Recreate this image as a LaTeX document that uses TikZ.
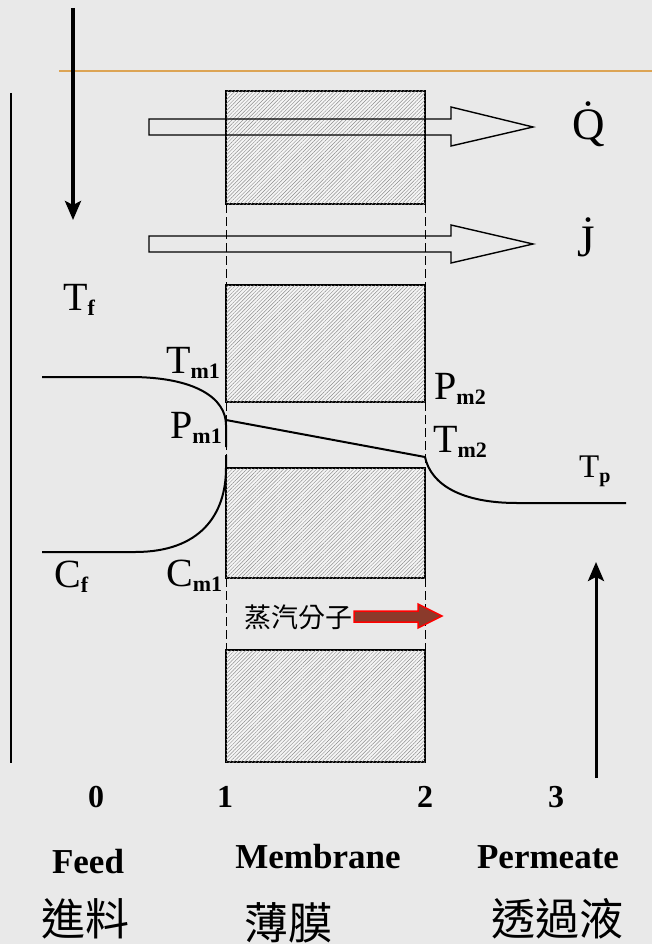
\documentclass[tikz,border=0pt]{standalone}
\usepackage{fontspec}
\setmainfont{Liberation Serif}
\newfontfamily\cjk{Noto Sans CJK TC}
\usetikzlibrary{patterns.meta,arrows.meta}
\definecolor{bgc}{HTML}{E9E9E9}
\definecolor{orangeline}{HTML}{DCA455}
\definecolor{brownred}{HTML}{8B3A2B}
\newcommand{\Lbl}[2]{{\fontsize{40}{40}\selectfont #1}\raisebox{-5pt}{\fontsize{22}{22}\selectfont\bfseries #2}}
\newcommand{\SLbl}[2]{{\fontsize{33}{33}\selectfont #1}\raisebox{-5pt}{\fontsize{20}{20}\selectfont\bfseries #2}}
\begin{document}
\begin{tikzpicture}[x=1pt,y=-1pt,
  membrane/.style={draw=black,line width=2pt,fill=white!96!black,
    postaction={pattern color=black!45,pattern={Lines[angle=45,distance=2.6pt,line width=0.45pt]}}},
  dashline/.style={line width=1pt,dash pattern=on 9pt off 4pt},
  hollow/.style={draw=black,line width=1.4pt,line join=miter},
  profile/.style={line width=2pt},
  lab/.style={inner sep=0pt,anchor=base west},
  num/.style={inner sep=0pt,anchor=base,font=\fontsize{32}{32}\selectfont\bfseries},
  word/.style={inner sep=0pt,anchor=base,font=\fontsize{35}{35}\selectfont\bfseries},
  zh/.style={inner sep=0pt,anchor=center,font=\fontsize{44}{44}\selectfont\cjk},
  flow/.style={line width=3.5pt,-{Stealth[length=19pt,width=16pt,inset=4pt]}}]
\useasboundingbox (0,0) rectangle (652,944);
\fill[bgc] (0,0) rectangle (652,944);

% orange rule
\coordinate (ol1) at (59,71);
\coordinate (ol2) at (652,71);
\draw[orangeline,line width=2pt] (ol1) -- (ol2);

% left boundary line
\coordinate (lb1) at (11,93);
\coordinate (lb2) at (11,763);
\draw[line width=1.6pt] (lb1) -- (lb2);

% feed and permeate arrows
\coordinate (fa1) at (73,8);
\coordinate (fa2) at (73,220);
\draw[flow] (fa1) -- (fa2);
\coordinate (pa1) at (596,778);
\coordinate (pa2) at (596,562);
\draw[flow,line width=3pt] (pa1) -- (pa2);

% membrane blocks
\coordinate (m1a) at (226,91);  \coordinate (m1b) at (425,204);
\coordinate (m2a) at (226,285); \coordinate (m2b) at (425,402);
\coordinate (m3a) at (226,468); \coordinate (m3b) at (425,578);
\coordinate (m4a) at (226,650); \coordinate (m4b) at (425,762);
\draw[membrane] (m1a) rectangle (m1b);
\draw[membrane] (m2a) rectangle (m2b);
\draw[membrane] (m3a) rectangle (m3b);
\draw[membrane] (m4a) rectangle (m4b);

% dashed pore walls
\foreach \ya/\yb in {204/285,402/468,578/650}{
  \draw[dashline] (226,\ya) -- (226,\yb);
  \draw[dashline] (425,\ya) -- (425,\yb);
}

% hollow flux arrows
\draw[hollow] (149,119) -- (451,119) -- (451,107) -- (533,127) -- (451,146) -- (451,135) -- (149,135) -- cycle;
\draw[hollow] (149,236) -- (451,236) -- (451,225) -- (533,244) -- (451,263) -- (451,252) -- (149,252) -- cycle;
\node[lab,font=\fontsize{45}{45}\selectfont] (qdot) at (572,140) {\.{Q}};
\node[lab,font=\fontsize{45}{45}\selectfont] (jdot) at (577,256) {\.{J}};

% profiles
\coordinate (tf0) at (42,377);
\coordinate (tf1) at (130,377);
\coordinate (tm1) at (226,425);
\coordinate (pm1) at (226,420);
\coordinate (pm2) at (425,457);
\coordinate (tp1) at (517,503);
\coordinate (tp2) at (626,503);
\coordinate (cf0) at (42,552);
\coordinate (cf1) at (135,552);
\coordinate (cm1) at (226,468);
\draw[profile] (tf0) -- (tf1) .. controls (195,377) and (226,398) .. (tm1) -- (226,447);
\draw[profile] (cf0) -- (cf1) .. controls (200,552) and (226,515) .. (cm1) -- (226,455);
\draw[profile] (pm1) -- (pm2);
\draw[profile] (pm2) .. controls (431,485) and (462,503) .. (tp1) -- (tp2);

% labels
\node[lab] (Tf)  at (63,310)  {\Lbl{T}{f}};
\node[lab] (Tm1) at (166,373) {\Lbl{T}{m1}};
\node[lab] (Pm1) at (170,438) {\Lbl{P}{m1}};
\node[lab] (Pm2) at (434,399) {\Lbl{P}{m2}};
\node[lab] (Tm2) at (433,452) {\Lbl{T}{m2}};
\node[lab] (Cf)  at (54,587)  {\Lbl{C}{f}};
\node[lab] (Cm1) at (166,586) {\Lbl{C}{m1}};
\node[lab] (Tp)  at (579,477) {\SLbl{T}{p}};

% vapour molecule arrow
\node[inner sep=0pt,font=\fontsize{27}{27}\selectfont\cjk] (vap) at (298,617) {蒸汽分子};
\draw[draw=red,line width=1.5pt,fill=brownred,line join=miter] (354,611) -- (418,611) -- (418,604) -- (442,616) -- (418,628) -- (418,622) -- (354,622) -- cycle;

% positions
\node[num] (n0) at (96,807) {0};
\node[num] (n1) at (225,807) {1};
\node[num] (n2) at (425,807) {2};
\node[num] (n3) at (556,807) {3};

% region names
\node[word] (feed) at (88,873) {Feed};
\node[word] (memb) at (318,868) {Membrane};
\node[word] (perm) at (548,868) {Permeate};
\node[zh] (zfeed) at (85,919) {進料};
\node[zh] (zmemb) at (288,923) {薄膜};
\node[zh] (zperm) at (557,919) {透過液};
\end{tikzpicture}
\end{document}
